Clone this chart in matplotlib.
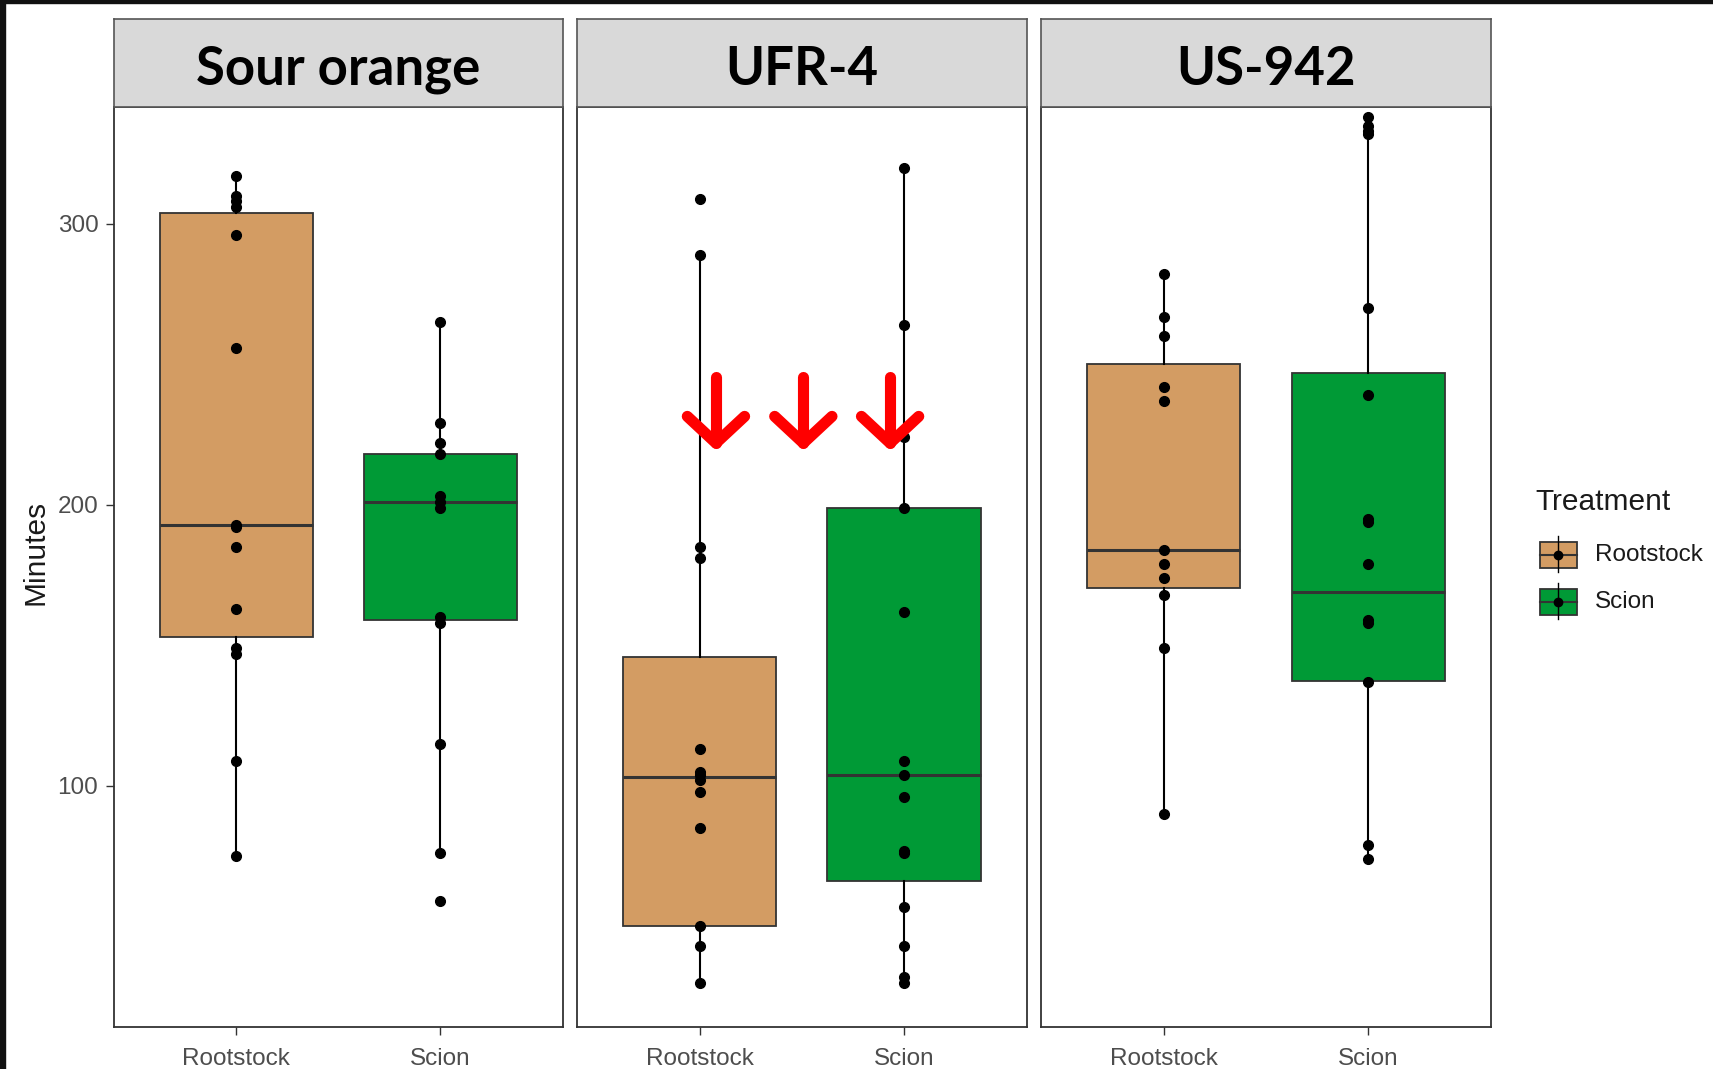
import numpy as np
import matplotlib.pyplot as plt
from matplotlib.patches import Rectangle

plt.rcParams['font.family'] = ['Liberation Sans', 'DejaVu Sans']

# facets and groups
rootstocks = ['Sour orange', 'UFR-4', 'US-942']
treatments = ['Rootstock', 'Scion']
colors = ['#D39C63', '#009A36']

so_root = [317, 310, 308, 306, 296, 256, 193, 192, 185, 163, 149, 147, 109, 75]
so_scion = [265, 229, 222, 218, 203, 201, 199, 160, 158, 115, 76, 59]
ufr_root = [309, 289, 185, 181, 113, 105, 104, 102, 98, 85, 50, 43, 30]
ufr_scion = [320, 264, 224, 199, 162, 109, 104, 96, 77, 76, 57, 43, 32, 30]
us_root = [282, 267, 260, 242, 237, 184, 179, 174, 168, 149, 90]
us_scion = [338, 335, 333, 332, 270, 239, 195, 194, 179, 159, 158, 137, 79, 74]
points = [so_root, so_scion, ufr_root, ufr_scion, us_root, us_scion]

# box statistics as drawn, same order as points
q1 = [153, 159, 50, 66, 170.5, 137.5]
med = [193, 201, 103, 104, 184, 169]
q3 = [304, 218, 146, 199, 250, 247]
whislo = [75, 76, 30, 30, 90, 74]
whishi = [317, 265, 289, 320, 282, 338]

yticks = [100, 200, 300]
arrow_x = [1.08, 1.507, 1.931]   # red arrows in the UFR-4 panel

W, H = 1713, 1069
fig = plt.figure(figsize=(W / 100, H / 100), dpi=100)


def box(x0, y0, x1, y1):
    return [x0 / W, 1 - y1 / H, (x1 - x0) / W, (y1 - y0) / H]


panel_x = [(113.6, 562.6), (576.8, 1027), (1041, 1491)]
p_top, p_bot, s_top = 107, 1027, 18.6
edge = '#333333'

axes = []
for i, name in enumerate(rootstocks):
    x0, x1 = panel_x[i]
    ax = fig.add_axes(box(x0, p_top, x1, p_bot))
    for j in range(2):
        k = 2 * i + j
        st = dict(q1=q1[k], med=med[k], q3=q3[k], whislo=whislo[k],
                  whishi=whishi[k], fliers=[])
        ax.bxp([st], positions=[j + 1], widths=0.75, patch_artist=True,
               showcaps=False, showfliers=False,
               boxprops=dict(facecolor=colors[j], edgecolor=edge, linewidth=1.3),
               medianprops=dict(color=edge, linewidth=2.2),
               whiskerprops=dict(color='black', linewidth=1.5))
        ax.plot([j + 1] * len(points[k]), points[k], 'o', color='black',
                ms=7, zorder=4)
    ax.set_xlim(0.4, 2.6)
    ax.set_ylim(14.2, 341.6)
    ax.set_xticks([1, 2])
    ax.set_xticklabels(treatments)
    ax.set_yticks(yticks)
    ax.tick_params(length=6, width=1, color=edge, labelsize=17.5,
                   labelcolor='#4d4d4d', pad=5)
    ax.tick_params(axis='x', pad=9)
    if i > 0:
        ax.tick_params(axis='y', left=False, labelleft=False)
    for s in ax.spines.values():
        s.set_color(edge)
        s.set_linewidth(1.3)

    sax = fig.add_axes(box(x0, s_top, x1, p_top))
    sax.set_facecolor('#d9d9d9')
    sax.set_xticks([])
    sax.set_yticks([])
    for s in sax.spines.values():
        s.set_color('#555555')
        s.set_linewidth(1.2)
    sax.text(0.5, 0.25, name, ha='center', va='baseline', fontsize=38,
             fontweight='bold', family=['Lato', 'DejaVu Sans'],
             transform=sax.transAxes)
    axes.append(ax)

# red arrows
ax = axes[1]
for x in arrow_x:
    ax.plot([x, x], [245.5, 222], color='#FF0000', lw=8,
            solid_capstyle='round', zorder=10, clip_on=False)
    ax.plot([x - 0.14, x, x + 0.14], [231.5, 222, 231.5], color='#FF0000',
            lw=8, solid_capstyle='round', solid_joinstyle='round', zorder=10,
            clip_on=False)

fig.text(36 / W, 1 - 552 / H, 'Minutes', rotation=90, ha='center',
         va='center', fontsize=21.5, color='#1a1a1a')

# legend drawn in figure pixel coordinates
lax = fig.add_axes([0, 0, 1, 1], zorder=5)
lax.set_xlim(0, W)
lax.set_ylim(H, 0)
lax.axis('off')
lax.text(1535, 502, 'Treatment', fontsize=21.5, va='center', ha='left',
         color='#1a1a1a')
for j, lab in enumerate(treatments):
    cy = 555 + 47 * j
    lax.plot([1558, 1558], [cy - 19, cy + 17], color='black', lw=1)
    lax.add_patch(Rectangle((1540, cy - 13), 37, 26, facecolor=colors[j],
                            edgecolor=edge, lw=1.3))
    lax.plot([1540, 1577], [cy, cy], color=edge, lw=1.5)
    lax.plot([1558], [cy], 'o', color='black', ms=6)
    lax.text(1595, cy, lab, fontsize=17.5, va='center', ha='left',
             color='#1a1a1a')

# dark screenshot edges
lax.add_patch(Rectangle((0, 0), 5, H, color='#111111', clip_on=False))
lax.add_patch(Rectangle((0, 0), W, 3, color='#111111', clip_on=False))

fig.savefig('out.png', dpi=100, facecolor='white')
